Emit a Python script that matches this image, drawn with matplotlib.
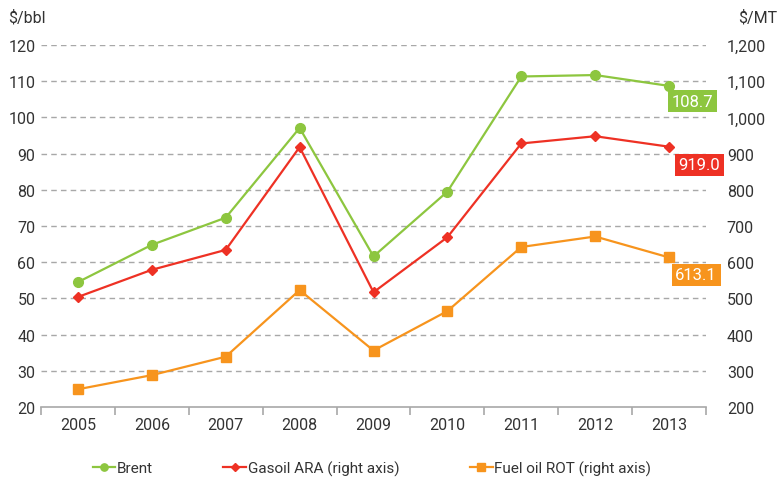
import numpy as np
import matplotlib.pyplot as plt

# data
years = ["2005", "2006", "2007", "2008", "2009", "2010", "2011", "2012", "2013"]
brent = [54.5, 64.8, 72.3, 97.1, 61.6, 79.5, 111.3, 111.7, 108.7]          # $/bbl
gasoil = [504, 579, 634, 918, 517, 669, 928, 948, 919.0]                    # $/MT
fueloil = [249, 288, 339, 523, 356, 465, 642, 671, 613.1]                   # $/MT

green = "#8DC63F"
red = "#EE3124"
orange = "#F7941D"
grey = "#a8a8a8"
txt = "#333333"

plt.rcParams['font.family'] = ['Roboto', 'DejaVu Sans']

fig = plt.figure(figsize=(7.78, 4.85), dpi=100)
ax = fig.add_axes([41/778, 1-408/485, (706-41)/778, (408-46)/485])
ax2 = ax.twinx()

x = np.arange(len(years))

ax.set_xlim(-0.5, len(years) - 0.5)
ax.set_ylim(20, 120)
ax2.set_ylim(200, 1200)

# gridlines (left axis)
for v in range(30, 130, 10):
    ax.axhline(v, color=grey, lw=1, ls=(0, (4, 3)), zorder=0)

l1, = ax.plot(x, brent, color=green, lw=1.6, marker="o", ms=7, zorder=3)
l2, = ax2.plot(x, gasoil, color=red, lw=1.6, marker="D", ms=5.5, zorder=3)
l3, = ax2.plot(x, fueloil, color=orange, lw=1.6, marker="s", ms=7.5, zorder=3)

for a in (ax, ax2):
    for s in ("top", "left", "right"):
        a.spines[s].set_visible(False)
ax2.spines["bottom"].set_visible(False)
ax.spines["bottom"].set_color(grey)
ax.spines["bottom"].set_linewidth(1.2)

# category ticks at boundaries, labels centred
ax.set_xticks(np.arange(-0.5, len(years) + 0.5, 1))
ax.set_xticklabels([])
ax.set_xticks(x, minor=True)
ax.set_xticklabels(years, minor=True, fontsize=11.5, color=txt)
ax.tick_params(axis="x", which="major", length=6, color=grey, width=1.2, direction="out")
ax.tick_params(axis="x", which="minor", length=0, pad=7)

ax.set_yticks(range(20, 130, 10))
ax.tick_params(axis="y", length=0, labelsize=11.5, labelcolor=txt, pad=4)
ax2.set_yticks(range(200, 1300, 100))
ax2.set_yticklabels([f"{v:,}" for v in range(200, 1300, 100)])
ax2.tick_params(axis="y", length=0, labelsize=11.5, labelcolor=txt, pad=15)

fig.text(8/778, 1-18/485, "$/bbl", fontsize=11.5, color=txt, va="center", ha="left")
fig.text(738/778, 1-18/485, "$/MT", fontsize=11.5, color=txt, va="center", ha="left")

# value boxes at last point
def endlabel(a, val, color, text, dx, dy):
    a.annotate(text, (x[-1], val), xytext=(dx, dy), textcoords="offset points",
               ha="center", va="center", color="white", fontsize=12,
               bbox=dict(boxstyle="square,pad=0.22", fc=color, ec="none"), zorder=5)

endlabel(ax, brent[-1], green, "108.7", 17, -11)
endlabel(ax2, gasoil[-1], red, "919.0", 22, -13)
endlabel(ax2, fueloil[-1], orange, "613.1", 19.5, -12.5)

fig.legend([l1, l2, l3], ["Brent", "Gasoil ARA (right axis)", "Fuel oil ROT (right axis)"],
           loc="center", bbox_to_anchor=(0.478, 1-469/485), ncol=3, frameon=False,
           handlelength=1.5, handletextpad=0.1, columnspacing=4.6,
           prop=dict(size=11), markerscale=0.75)
for t in fig.legends[0].get_texts():
    t.set_color(txt)

fig.savefig("out.png", dpi=100)
